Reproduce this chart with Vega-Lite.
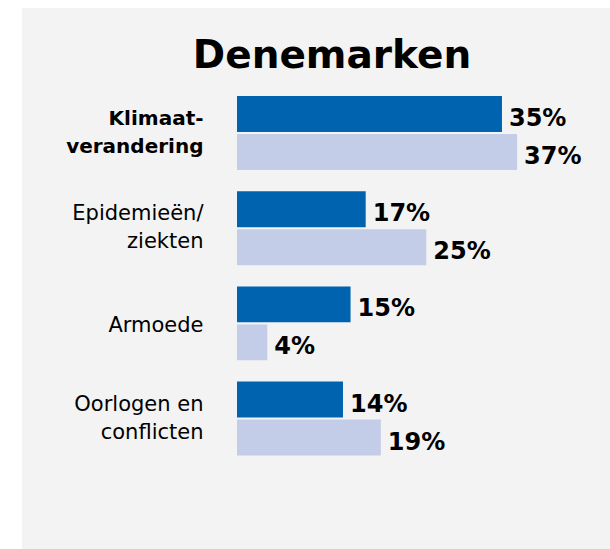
{
  "$schema": "https://vega.github.io/schema/vega-lite/v6.json",
  "width": 588,
  "height": 541,
  "padding": {"left": 22, "top": 8, "right": 0, "bottom": 0},
  "background": "white",
  "title": {
    "text": "Denemarken",
    "font": "DejaVu Sans",
    "fontSize": 39,
    "fontWeight": "bold",
    "color": "#000000",
    "anchor": "middle",
    "dx": 16,
    "offset": -68
  },
  "data": {
    "values": [
      {"thema": "Klimaat-\nverandering", "serie": "A", "waarde": 0.35},
      {"thema": "Klimaat-\nverandering", "serie": "B", "waarde": 0.37},
      {"thema": "Epidemieën/\nziekten", "serie": "A", "waarde": 0.17},
      {"thema": "Epidemieën/\nziekten", "serie": "B", "waarde": 0.25},
      {"thema": "Armoede", "serie": "A", "waarde": 0.15},
      {"thema": "Armoede", "serie": "B", "waarde": 0.04},
      {"thema": "Oorlogen en\nconflicten", "serie": "A", "waarde": 0.14},
      {"thema": "Oorlogen en\nconflicten", "serie": "B", "waarde": 0.19}
    ]
  },
  "encoding": {
    "y": {
      "field": "thema",
      "type": "nominal",
      "sort": null,
      "scale": {"paddingInner": 0.2227, "paddingOuter": 0.953, "align": 0.485},
      "axis": {
        "title": null,
        "domain": false,
        "ticks": false,
        "offset": -215,
        "labelPadding": 34,
        "labelExpr": "split(datum.label, '\\n')",
        "labelFont": "DejaVu Sans",
        "labelFontSize": {"condition": {"test": "indexof(datum.value, 'Klimaat') >= 0", "value": 20}, "value": 21},
        "labelFontWeight": {"condition": {"test": "indexof(datum.value, 'Klimaat') >= 0", "value": "bold"}, "value": "normal"},
        "labelOffset": {"condition": {"test": "indexof(datum.value, '\\n') >= 0", "value": -14}, "value": 3},
        "labelColor": "#000000",
        "labelLineHeight": 28,
        "labelLimit": 300
      }
    },
    "yOffset": {
      "field": "serie",
      "type": "nominal",
      "scale": {"paddingInner": 0.053}
    },
    "x": {
      "field": "waarde",
      "type": "quantitative",
      "stack": null,
      "scale": {"domain": [-0.284, 0.4927], "nice": false, "zero": false},
      "axis": null
    }
  },
  "layer": [
    {
      "mark": {"type": "bar"},
      "encoding": {
        "color": {
          "field": "serie",
          "type": "nominal",
          "scale": {"domain": ["A", "B"], "range": ["#0063af", "#c4cde8"]},
          "legend": null
        }
      }
    },
    {
      "mark": {
        "type": "text",
        "align": "left",
        "baseline": "alphabetic",
        "dx": 7,
        "dy": 12,
        "font": "DejaVu Sans",
        "fontSize": 24,
        "fontWeight": "bold",
        "color": "#000000"
      },
      "encoding": {
        "text": {"field": "waarde", "type": "quantitative", "format": ".0%"}
      }
    }
  ],
  "config": {
    "view": {"fill": "#f3f3f3", "stroke": null},
    "axis": {"grid": false}
  }
}
